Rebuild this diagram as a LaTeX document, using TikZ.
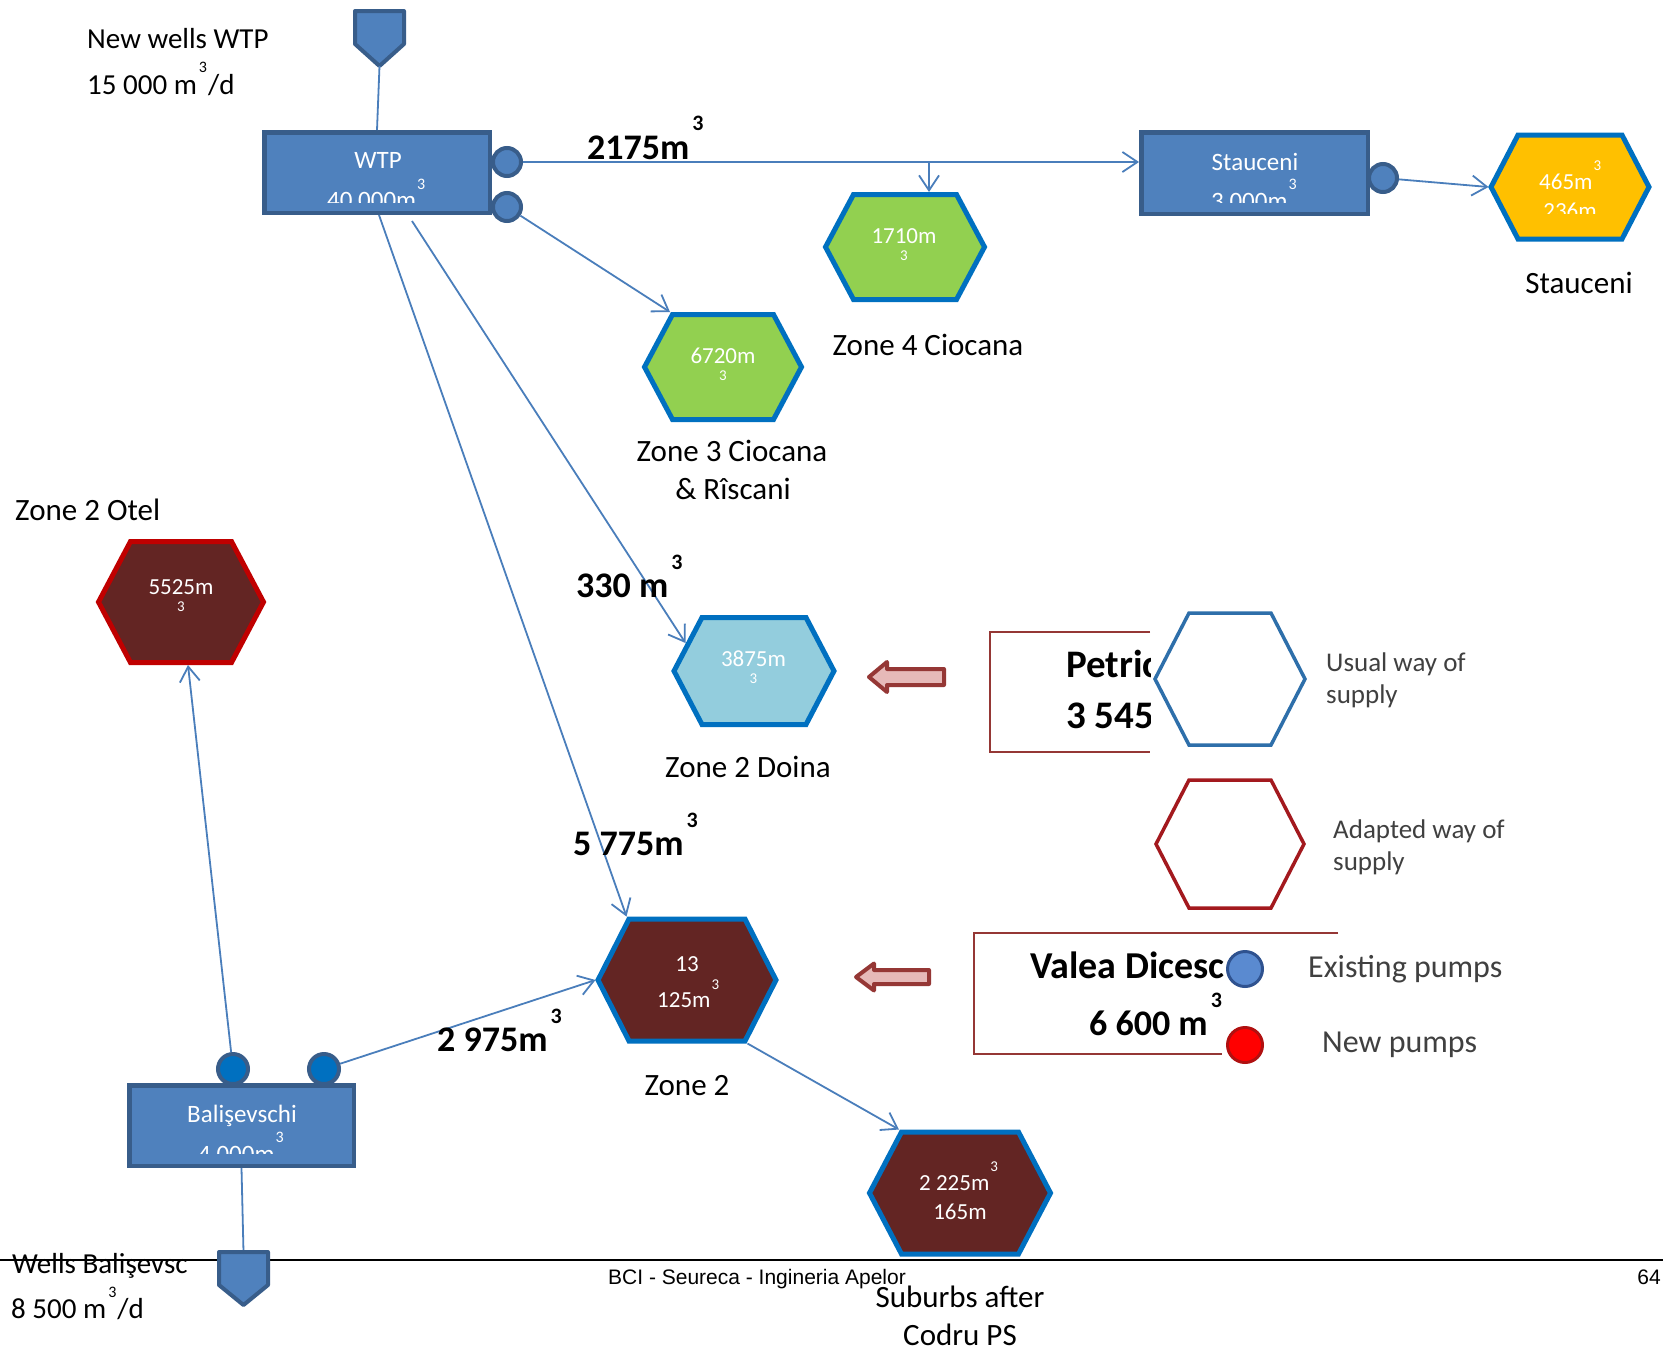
\documentclass[tikz,border=0pt]{standalone}
\usepackage{fontspec}
\setmainfont{Carlito}
\newfontfamily\arialf{Liberation Sans}
\usetikzlibrary{arrows.meta,calc}
\definecolor{boxfill}{HTML}{4F81BD}
\definecolor{boxline}{HTML}{385D8A}
\definecolor{connc}{HTML}{4A7EBB}
\definecolor{hexline}{HTML}{0070C0}
\definecolor{greenf}{HTML}{92D050}
\definecolor{lblue}{HTML}{93CDDD}
\definecolor{maroonf}{HTML}{632523}
\definecolor{otelline}{HTML}{C00000}
\definecolor{orangef}{HTML}{FFC000}
\definecolor{arrfill}{HTML}{E6B9B8}
\definecolor{arrline}{HTML}{953735}
\definecolor{legblue}{HTML}{2E6FAA}
\definecolor{legred}{HTML}{A3191E}
\definecolor{legtext}{HTML}{404040}
\definecolor{pumpdark}{HTML}{0070C0}
\definecolor{legpumpf}{HTML}{5A8AD0}
\definecolor{legpumpl}{HTML}{2F528F}
\definecolor{newpumpl}{HTML}{B01010}
\newcommand{\fsz}[1]{\fontsize{#1}{#1}\selectfont}
\newcommand{\cubed}[2]{\raisebox{#1}{\fsz{#2}3}}
% #1 style, #2 name, #3 cx, #4 cy, #5 w, #6 h, #7 indent
\newcommand{\hexa}[7]{%
  \path[#1] ({#3-#5/2+2.5},#4) -- ({#3-#5/2+2.5+#7},{#4-#6/2+2.5}) -- ({#3+#5/2-2.5-#7},{#4-#6/2+2.5}) -- ({#3+#5/2-2.5},#4) -- ({#3+#5/2-2.5-#7},{#4+#6/2-2.5}) -- ({#3-#5/2+2.5+#7},{#4+#6/2-2.5}) -- cycle;
  \node[inner sep=0pt,outer sep=0pt,minimum width=#5pt,minimum height=#6pt] (#2) at (#3,#4) {};}
\begin{document}
\begin{tikzpicture}[x=1pt,y=-1pt,
  every node/.style={inner sep=0pt},
  line/.style={draw=connc, line width=1.8pt},
  conn/.style={line, -{Straight Barb[length=15pt,width=20pt]}},
  bluebox/.style={rectangle, fill=boxfill, draw=boxline, line width=4.5pt},
  pump/.style={circle, fill=boxfill, draw=boxline, line width=4pt, minimum size=28pt},
  bpump/.style={circle, fill=pumpdark, draw=boxline, line width=4pt, minimum size=30pt},
  pent/.style={fill=boxfill, draw=boxline, line width=4pt, line join=round},
  hexg/.style={fill=greenf, draw=hexline, line width=5pt},
  hexl/.style={fill=lblue, draw=hexline, line width=5pt},
  hexm/.style={fill=maroonf, draw=hexline, line width=5pt},
  hexr/.style={fill=maroonf, draw=otelline, line width=5pt},
  hexo/.style={fill=orangef, draw=hexline, line width=5pt},
  legh1/.style={draw=legblue, line width=3.5pt},
  legh2/.style={draw=legred, line width=3.5pt},
  redbox/.style={draw=arrline, line width=1.8pt},
  blockarr/.style={fill=arrfill, draw=arrline, line width=4pt, line join=round},
  wt/.style={text=white},
  lab/.style={font=\fsz{31}, text=black},
  big/.style={font=\bfseries\fsz{36}, text=black},
  hext/.style={wt, font=\fsz{23}},
  legt/.style={text=legtext}
]
\fill[white] (0,0) rectangle (1663,1350);
\useasboundingbox (0,0) rectangle (1663,1350);

% ---------- boxes ----------
\node[bluebox, minimum width=225.5pt, minimum height=80.5pt] (wtp) at (377,172.5) {};
\node[wt, anchor=base, font=\fsz{25}] (wtpt) at (378,168) {WTP};
\begin{scope}
  \clip (262,130) rectangle (492,202);
  \node[wt, anchor=base west, font=\fsz{25}] (wtpn) at (327,208) {40 000m\hspace{1pt}\cubed{19pt}{16}};
\end{scope}

\node[bluebox, minimum width=226.5pt, minimum height=81.5pt] (stb) at (1254.5,173) {};
\node[wt, anchor=base, font=\fsz{25}] (stbt) at (1255,170) {Stauceni};
\begin{scope}
  \clip (1139,130) rectangle (1370,202);
  \node[wt, anchor=base west, font=\fsz{25}] (stbn) at (1211,209) {3 000m\hspace{1pt}\cubed{20pt}{16}};
\end{scope}

\node[bluebox, minimum width=224.5pt, minimum height=80.5pt] (bal) at (241.5,1125.5) {};
\node[wt, anchor=base, font=\fsz{25}] (balt) at (242,1122) {Balişevschi};
\begin{scope}
  \clip (127,1083) rectangle (356,1153);
  \node[wt, anchor=base west, font=\fsz{25}] (baln) at (198,1162) {4 000m\hspace{1pt}\cubed{20pt}{16}};
\end{scope}

% ---------- wells (pentagons) ----------
\filldraw[pent] (355,11) -- (404,11) -- (404,44) -- (379.5,66) -- (355,44) -- cycle;
\coordinate (pt1) at (379.5,66);

% ---------- hexagons ----------
\hexa{hexg}{z4}{905}{247}{164}{110}{28}
\hexa{hexg}{z3}{723}{367}{162}{110}{28}
\hexa{hexl}{zd}{754}{671}{165}{112}{28}
\hexa{hexm}{z2}{687}{980}{183}{127}{31}
\hexa{hexm}{zs}{960}{1193}{186}{127}{32}
\hexa{hexr}{zo}{181}{602}{170}{126}{32}
\hexa{hexo}{zst}{1570}{187}{163}{109}{27}

\node[hext, anchor=base] (z4a) at (904,243) {1710m};
\node[wt, anchor=base, font=\fsz{15}] (z4b) at (904,260) {3};
\node[hext, anchor=base] (z3a) at (723,363) {6720m};
\node[wt, anchor=base, font=\fsz{15}] (z3b) at (723,380) {3};
\node[hext, anchor=base] (zda) at (753.5,666) {3875m};
\node[wt, anchor=base, font=\fsz{15}] (zdb) at (753.5,683) {3};
\node[hext, anchor=base] (zoa) at (181,594) {5525m};
\node[wt, anchor=base, font=\fsz{15}] (zob) at (181,611) {3};
\node[hext, anchor=base] (z2a) at (687,971) {13};
\node[hext, anchor=base west] (z2b) at (657,1007) {125m\hspace{1pt}\cubed{18pt}{15}};
\node[hext, anchor=base west] (zsa) at (919,1190) {2 225m\hspace{1pt}\cubed{19pt}{15}};
\node[hext, anchor=base] (zsb) at (960,1219) {165m};
\node[hext, anchor=base west] (zsta) at (1539,189) {465m\hspace{1pt}\cubed{19pt}{15}};
\begin{scope}
  \clip (1490,132) rectangle (1650,213);
  \node[hext, anchor=base] (zstb) at (1570,218) {236m};
\end{scope}

% ---------- connectors ----------
\draw[line] (pt1) -- (wtp.north);
\node[pump] (p1) at (507,162) {};
\node[pump] (p2) at (507,207) {};
\node[pump] (sp) at (1383,178) {};
\node[bpump] (bp1) at (233,1069) {};
\node[bpump] (bp2) at (324,1069) {};
\coordinate (br) at (929,162);
\draw[conn] (p1.east) -- (p1.east -| stb.west);
\draw[conn] (br) -- (br |- z4.north);
\draw[conn] (p2) -- ([xshift=28pt]z3.north west);
\coordinate (zdin) at ($(zd.west)!0.5!([xshift=28pt]zd.north west)$);
\draw[conn] ([xshift=35pt,yshift=-6pt]wtp.south) -- (zdin);
\draw[conn] ([xshift=2pt]wtp.south) -- ([xshift=31pt]z2.north west);
\draw[conn] (bp2) -- (z2.west);
\draw[conn] (bp1) -- ([xshift=7pt]zo.south);
\draw[conn] ([xshift=-31pt]z2.south east) -- ([xshift=32pt]zs.north west);
\draw[conn] (sp) -- (zst.west);
\coordinate (pt2) at (243.5,1252);
\draw[line] (bal.south) -- (pt2);

% ---------- labels ----------
\node[anchor=base west, font=\fsz{29}] (nw1) at (87,48) {New wells WTP};
\node[anchor=base west, font=\fsz{29}] (nw2) at (87,94) {15 000 m\hspace{2pt}\cubed{22pt}{16}\hspace{1pt}/d};
\node[big, anchor=base west] (q1) at (587,159) {2175m\hspace{3pt}\cubed{29pt}{22}};
\node[big, anchor=base west] (q2) at (576,597) {330 m\hspace{3pt}\cubed{28pt}{22}};
\node[big, anchor=base west] (q3) at (573,855) {5 775m\hspace{3pt}\cubed{28pt}{22}};
\node[big, anchor=base west] (q4) at (437,1051) {2 975m\hspace{3pt}\cubed{28pt}{22}};
\node[lab, anchor=base] (l4) at (928,355) {Zone 4 Ciocana};
\node[lab, anchor=base] (l3a) at (732,461) {Zone 3 Ciocana};
\node[lab, anchor=base] (l3b) at (733,499) {\& Rîscani};
\node[lab, anchor=base west] (lo) at (15,520) {Zone 2 Otel};
\node[lab, anchor=base] (ld) at (748,777) {Zone 2 Doina};
\node[lab, anchor=base] (l2) at (687,1095) {Zone 2};
\node[lab, anchor=base] (lst) at (1579,293) {Stauceni};
\node[lab, anchor=base] (ls1) at (960,1307) {Suburbs after};
\node[lab, anchor=base] (ls2) at (960,1345) {Codru PS};

% ---------- block arrows ----------
\path[blockarr] (869,677) -- (887,662) -- (887,669) -- (944,669) -- (944,685) -- (887,685) -- (887,692) -- cycle;
\path[blockarr] (856,977) -- (874,963.5) -- (874,970) -- (929,970) -- (929,984) -- (874,984) -- (874,990.5) -- cycle;

% ---------- legend ----------
\draw[redbox] (1150,632) -- (990,632) -- (990,752) -- (1150,752);
\begin{scope}
  \clip (990,600) rectangle (1150,760);
  \node[anchor=base west, font=\bfseries\fsz{39}] (pe1) at (1066,677) {Petric};
  \node[anchor=base west, font=\bfseries\fsz{39}] (pe2) at (1066,728) {3 545};
\end{scope}
\hexa{legh1}{lh1}{1230}{679}{155}{137}{34}
\node[legt, anchor=base west, font=\fsz{27}] (u1) at (1326,671) {Usual way of};
\node[legt, anchor=base west, font=\fsz{27}] (u2) at (1326,703) {supply};
\hexa{legh2}{lh2}{1230}{844}{153}{133}{33}
\node[legt, anchor=base west, font=\fsz{27}] (a1) at (1333,838) {Adapted way of};
\node[legt, anchor=base west, font=\fsz{27}] (a2) at (1333,870) {supply};

\draw[redbox] (1338,933) -- (974,933) -- (974,1054) -- (1222,1054);
\begin{scope}
  \clip (974,900) rectangle (1224,1060);
  \node[anchor=base west, font=\bfseries\fsz{38}] (va1) at (1030,978) {Valea Dicesc};
\end{scope}
\node[anchor=base west, font=\bfseries\fsz{36}] (va2) at (1089,1035) {6 600 m\hspace{3pt}\cubed{28pt}{22}};
\node[circle, minimum size=35pt, fill=legpumpf, draw=legpumpl, line width=3pt] (lp1) at (1245,969) {};
\node[circle, minimum size=35pt, fill=red, draw=newpumpl, line width=3pt] (lp2) at (1245,1045) {};
\node[legt, anchor=base west, font=\fsz{32}] (e1) at (1308,977) {Existing pumps};
\node[legt, anchor=base west, font=\fsz{32}] (e2) at (1322,1052) {New pumps};

% ---------- footer ----------
\node[anchor=base west, font=\fsz{29}] (wb1) at (12,1273) {Wells Balişevsc};
\node[anchor=base west, font=\fsz{29}] (wb2) at (11,1318) {8 500 m\hspace{2pt}\cubed{21pt}{16}\hspace{1pt}/d};
\draw[black, line width=2pt] (0,1260) -- (1663,1260);
\filldraw[pent] (219,1252) -- (268,1252) -- (268,1285) -- (243.5,1305) -- (219,1285) -- cycle;
\node[anchor=base west, font=\arialf\fsz{21}] (ft1) at (608,1284) {BCI - Seureca - Ingineria Apelor};
\node[anchor=base east, font=\arialf\fsz{21}] (ft2) at (1661,1284) {64};
\end{tikzpicture}
\end{document}
